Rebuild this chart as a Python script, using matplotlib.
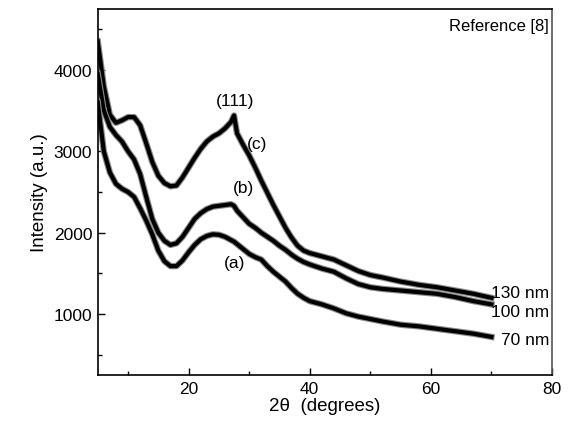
import matplotlib
matplotlib.use("Agg")
import matplotlib.pyplot as plt

plt.rcParams['font.family'] = ['Liberation Sans', 'DejaVu Sans']

# 2theta positions (degrees) and intensities
two_theta = [5, 6, 7, 8, 9, 10, 11, 12, 13, 14, 15, 16, 17, 18, 19, 20,
             21, 22, 23, 24, 25, 26, 27, 27.5, 28, 29, 30, 31, 32, 33, 34,
             35, 36, 37, 38, 39, 40, 42, 44, 46, 48, 50, 52, 55, 58, 61,
             64, 67, 70]

int_130nm = [4350, 3800, 3450, 3350, 3380, 3420, 3420, 3320, 3100, 2870,
             2700, 2610, 2570, 2580, 2680, 2800, 2920, 3030, 3120, 3180,
             3220, 3280, 3360, 3440, 3220, 3080, 2950, 2800, 2640, 2490,
             2340, 2200, 2060, 1940, 1840, 1780, 1750, 1710, 1670, 1600,
             1530, 1480, 1450, 1400, 1360, 1330, 1290, 1250, 1200]

int_100nm = [3950, 3500, 3300, 3200, 3120, 3000, 2900, 2720, 2440, 2170,
             2000, 1900, 1850, 1870, 1950, 2060, 2170, 2240, 2290, 2320,
             2330, 2340, 2350, 2330, 2270, 2190, 2110, 2060, 2000, 1950,
             1900, 1840, 1790, 1730, 1680, 1640, 1610, 1560, 1520, 1440,
             1370, 1330, 1310, 1290, 1270, 1250, 1210, 1160, 1120]

int_70nm = [3600, 3000, 2740, 2600, 2540, 2500, 2440, 2300, 2150, 1980,
            1780, 1650, 1590, 1590, 1660, 1760, 1850, 1920, 1960, 1980,
            1975, 1950, 1910, 1890, 1860, 1800, 1740, 1700, 1670, 1590,
            1520, 1460, 1400, 1320, 1250, 1200, 1160, 1120, 1070, 1010,
            970, 940, 910, 870, 850, 820, 790, 760, 720]

fig = plt.figure(figsize=(5.75, 4.27), dpi=100)
ax = fig.add_axes([0.170, 0.119, 0.790, 0.858])

# grey halo + black core to mimic the noisy trace band
for series in (int_130nm, int_100nm, int_70nm):
    ax.plot(two_theta, series, color='#8a8a8a', lw=4.6, solid_joinstyle='round')
    ax.plot(two_theta, series, color='black', lw=3.0, solid_joinstyle='round')

ax.set_xlim(5, 80)
ax.set_ylim(250, 4750)
ax.set_xticks([20, 40, 60, 80])
ax.set_xticks([10, 30, 50, 70], minor=True)
ax.set_yticks([1000, 2000, 3000, 4000])
ax.set_yticks([500, 1500, 2500, 3500, 4500], minor=True)
ax.tick_params(which='both', direction='in', labelsize=12.5, width=1)
ax.tick_params(which='major', length=5, pad=4)
ax.tick_params(which='minor', length=3)
for side in ('left', 'bottom', 'top'):
    ax.spines[side].set_linewidth(1.2)
ax.spines['right'].set_color('#555555')
ax.spines['right'].set_linewidth(1.2)

ax.set_xlabel('2θ  (degrees)', fontsize=13.5, labelpad=1)
ax.set_ylabel('Intensity (a.u.)', fontsize=13.5, labelpad=4)

ax.text(27.6, 3620, '(111)', fontsize=12.5, ha='center', va='center')
ax.text(31.3, 3100, '(c)', fontsize=12.5, ha='center', va='center')
ax.text(29.0, 2560, '(b)', fontsize=12.5, ha='center', va='center')
ax.text(27.6, 1630, '(a)', fontsize=12.5, ha='center', va='center')

ax.text(0.992, 0.955, 'Reference [8]', transform=ax.transAxes, fontsize=12,
        ha='right', va='center')
ax.text(79.6, 1260, '130 nm', fontsize=12.5, ha='right', va='center')
ax.text(79.6, 1030, '100 nm', fontsize=12.5, ha='right', va='center')
ax.text(79.6, 690, '70 nm', fontsize=12.5, ha='right', va='center')

fig.savefig('out.png', dpi=100)
